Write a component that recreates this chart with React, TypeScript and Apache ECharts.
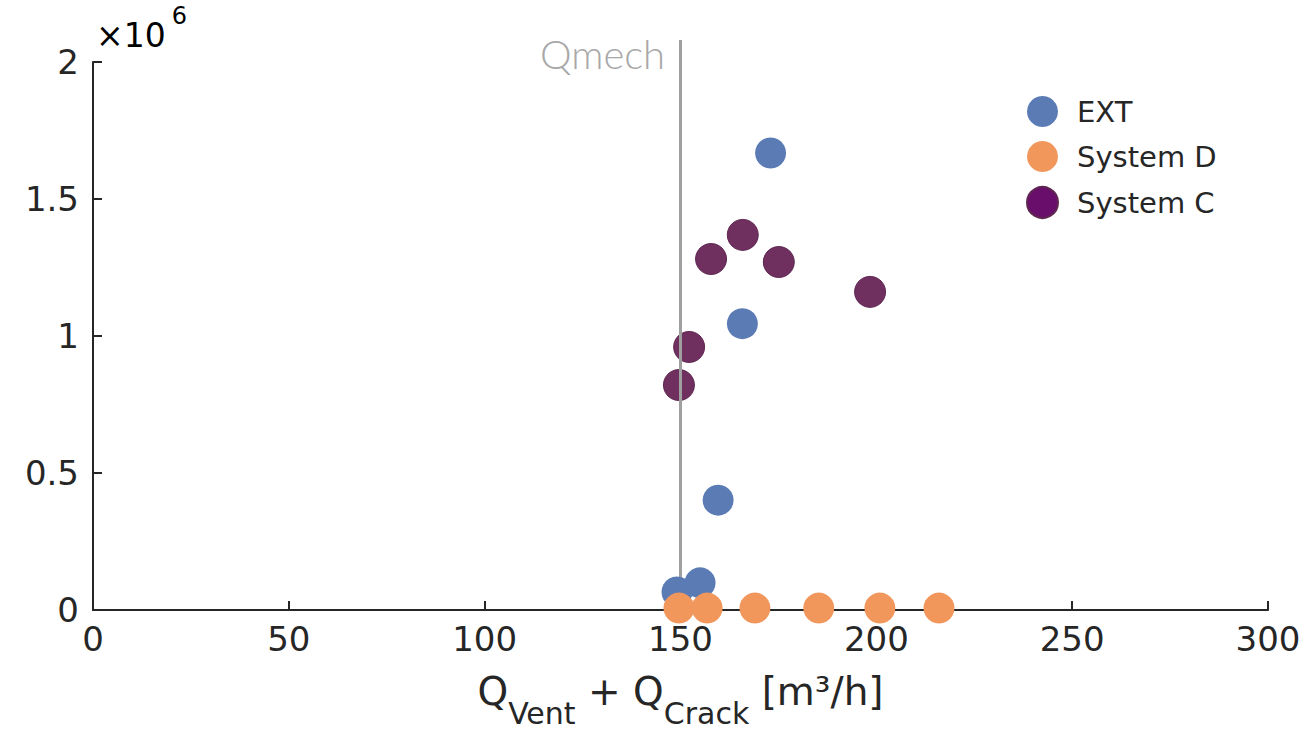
import React, { useEffect, useRef } from "react";
import * as echarts from "echarts";

const xTicks = [0, 50, 100, 150, 200, 250, 300];
const yTickLabels = ["0", "0.5", "1", "1.5", "2"];

const extData: [number, number][] = [
  [149.1, 66000],
  [155.0, 99000],
  [159.6, 401000],
  [165.8, 1045000],
  [173.0, 1668000],
];
const systemDData: [number, number][] = [
  [149.6, 7000],
  [156.8, 7000],
  [169.0, 7000],
  [185.3, 7000],
  [200.9, 7000],
  [216.0, 7000],
];
const systemCData: [number, number][] = [
  [149.6, 821000],
  [152.2, 960000],
  [157.8, 1281000],
  [165.9, 1369000],
  [175.1, 1270000],
  [198.4, 1161000],
];
const qMech = 150;
const qMechLine: [number, number][] = [
  [qMech, 0],
  [qMech, 2080000],
];

const EXT_COLOR = "#5b7bb5";
const D_COLOR = "#f2975c";
const C_COLOR = "#6f2f5f";
const C_LEGEND = "#6a0e6c";
const FONT = "DejaVu Sans";
const TXT = "#262626";

export default function App() {
  const ref = useRef<HTMLDivElement>(null);
  useEffect(() => {
    if (!ref.current) return;
    const chart = echarts.init(ref.current, undefined, { renderer: "svg" });
    chart.setOption({
      animation: false,
      backgroundColor: "#ffffff",
      grid: { left: 93, right: 44, top: 62, bottom: 126, containLabel: false },
      legend: {
        left: 1021,
        top: 91,
        orient: "vertical",
        itemWidth: 31,
        itemHeight: 31,
        itemGap: 14,
        icon: "circle",
        textStyle: { fontFamily: FONT, fontSize: 29, color: TXT, padding: [0, 0, 0, 14] },
        data: [
          { name: "EXT", itemStyle: { color: EXT_COLOR } },
          { name: "System D", itemStyle: { color: D_COLOR } },
          { name: "System C", itemStyle: { color: C_LEGEND } },
        ],
      },
      xAxis: {
        type: "value",
        min: xTicks[0],
        max: xTicks[xTicks.length - 1],
        interval: xTicks[1] - xTicks[0],
        axisLine: { show: true, lineStyle: { color: TXT, width: 2 } },
        axisTick: { show: true, inside: true, length: 9, lineStyle: { color: TXT, width: 2 } },
        splitLine: { show: false },
        axisLabel: { fontFamily: FONT, fontSize: 34, color: TXT, margin: 12 },
        name: "{q|Q}{s|Vent}{q| + Q}{s|Crack}{q| [m³/h]}",
        nameLocation: "middle",
        nameGap: 62,
        nameTextStyle: {
          rich: {
            q: { fontFamily: FONT, fontSize: 39, lineHeight: 39, color: TXT, verticalAlign: "top" },
            s: {
              fontFamily: FONT,
              fontSize: 30,
              lineHeight: 30,
              color: TXT,
              verticalAlign: "top",
              padding: [26, 0, 0, 0],
            },
          },
        },
      },
      yAxis: {
        type: "value",
        min: 0,
        max: 2000000,
        interval: 500000,
        axisLine: { show: true, lineStyle: { color: TXT, width: 2 } },
        axisTick: { show: true, inside: true, length: 9, lineStyle: { color: TXT, width: 2 } },
        splitLine: { show: false },
        axisLabel: {
          fontFamily: FONT,
          fontSize: 34,
          color: TXT,
          margin: 14,
          formatter: (v: number) => yTickLabels[Math.round(v / 500000)] ?? "",
        },
      },
      graphic: [
        {
          type: "text",
          left: 96,
          top: 4,
          style: {
            text: "{a|×10}{b|6}",
            rich: {
              a: { fontFamily: FONT, fontSize: 33, color: TXT, verticalAlign: "bottom", lineHeight: 50 },
              b: { fontFamily: FONT, fontSize: 24, color: TXT, padding: [0, 0, 24, 6], verticalAlign: "bottom" },
            },
          },
        },
        {
          type: "text",
          left: 540,
          top: 34,
          style: {
            text: "Qmech",
            fontFamily: "Lato",
            fontWeight: 300,
            fontSize: 40,
            fill: "#a8a8a8",
          },
        },
      ],
      series: [
        {
          name: "System C",
          type: "scatter",
          symbol: "circle",
          symbolSize: 31,
          itemStyle: { color: C_COLOR, opacity: 1, borderColor: "#5e2650", borderWidth: 1 },
          data: systemCData,
          z: 2,
        },
        {
          name: "Qmech",
          type: "line",
          data: qMechLine,
          clip: false,
          symbol: "none",
          lineStyle: { color: "#a0a0a0", width: 3 },
          z: 3,
        },
        {
          name: "EXT",
          type: "scatter",
          symbol: "circle",
          symbolSize: 31,
          itemStyle: { color: EXT_COLOR, opacity: 1 },
          data: extData,
          z: 4,
        },
        {
          name: "System D",
          type: "scatter",
          symbol: "circle",
          symbolSize: 31,
          itemStyle: { color: D_COLOR, opacity: 1 },
          data: systemDData,
          z: 5,
        },
      ],
    });
    return () => chart.dispose();
  }, []);
  return (
    <div
      ref={ref}
      style={{ position: "fixed", left: 0, top: 0, width: 1312, height: 736, background: "#fff" }}
    />
  );
}
